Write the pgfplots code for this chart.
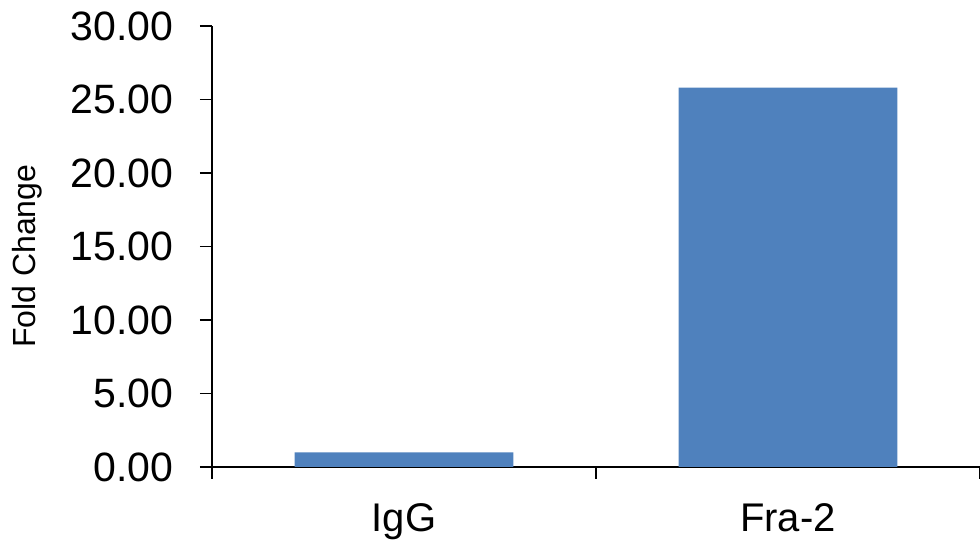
\documentclass[border=0pt]{standalone}
\usepackage{pgfplots}
\pgfplotsset{compat=1.18}
\usepackage{fontspec}
\setmainfont{Liberation Sans}
\definecolor{barblue}{HTML}{4F81BD}
\begin{document}
\begin{tikzpicture}
\begin{axis}[name=ax,
  scale only axis, width=768pt, height=441pt,
  xmin=-0.5, xmax=1.5, ymin=0, ymax=30,
  axis lines*=left,
  axis line style={line width=1.5pt, black},
  tick align=outside,
  major tick length=12pt,
  every tick/.style={line width=1.5pt, black},
  xtick={-0.5,0.5,1.5}, xticklabels={},
  extra x ticks={0,1}, extra x tick labels={IgG,Fra-2},
  extra x tick style={major tick length=0pt},
  ytick={0,5,10,15,20,25,30},
  /pgf/number format/assume math mode=true,
  yticklabel={\pgfmathprintnumber[fixed,fixed zerofill,precision=2]{\tick}},
  yticklabel style={font=\fontsize{41}{48}\selectfont, xshift=-23pt},
  xticklabel style={font=\fontsize{40}{48}\selectfont, yshift=-33pt},
  ylabel={Fold Change},
  every axis y label/.style={at={(axis description cs:-0.241,0.478)}, rotate=90, anchor=center, font=\fontsize{32}{38}\selectfont},
]
\addplot[ybar, bar width=0.57, fill=barblue, draw=none] coordinates {(0,1.0) (1,25.8)};
\end{axis}
\pgfresetboundingbox
\path[use as bounding box] ([xshift=-212pt,yshift=-77pt]ax.south west) rectangle ([yshift=26pt]ax.north east);
\end{tikzpicture}
\end{document}
